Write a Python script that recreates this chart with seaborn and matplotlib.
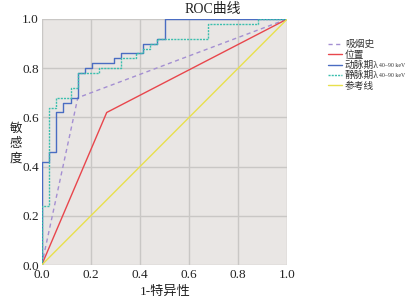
import pandas as pd
import seaborn as sns
import matplotlib.pyplot as plt

# ROC curve points (1-specificity, sensitivity)
smoke_x = [0, 5/34, 1]
smoke_y = [0, 0.68, 1]
pos_x = [0, 9/34, 1]
pos_y = [0, 0.62, 1]
art_x = [0, 0, 1/34, 1/34, 2/34, 2/34, 3/34, 3/34, 4/34, 4/34, 5/34, 5/34, 6/34, 6/34,
         7/34, 7/34, 10/34, 10/34, 11/34, 11/34, 14/34, 14/34, 16/34, 16/34, 17/34, 17/34, 1]
art_y = [0, 0.42, 0.42, 0.46, 0.46, 0.62, 0.62, 0.66, 0.66, 0.68, 0.68, 0.78, 0.78, 0.80,
         0.80, 0.82, 0.82, 0.84, 0.84, 0.86, 0.86, 0.90, 0.90, 0.92, 0.92, 1.0, 1.0]
ven_x = [0, 0, 1/34, 1/34, 2/34, 2/34, 4/34, 4/34, 5/34, 5/34, 8/34, 8/34, 11/34, 11/34,
         13/34, 13/34, 14/34, 14/34, 15/34, 15/34, 16/34, 16/34, 23/34, 23/34, 30/34, 30/34, 1]
ven_y = [0, 0.24, 0.24, 0.64, 0.64, 0.68, 0.68, 0.72, 0.72, 0.78, 0.78, 0.80, 0.80, 0.84,
         0.84, 0.86, 0.86, 0.88, 0.88, 0.90, 0.90, 0.92, 0.92, 0.98, 0.98, 1.0, 1.0]
ref_x = [0, 1]
ref_y = [0, 1]
names = ['吸烟史', '位置', '动脉期λ', '静脉期λ', '参考线']
subscripts = ['', '', '40–90 keV', '40–90 keV', '']
ticks = [0.0, 0.2, 0.4, 0.6, 0.8, 1.0]

sns.set_style('white')
plt.rcParams['font.family'] = ['Liberation Serif', 'Noto Sans CJK SC']

fig = plt.figure(figsize=(4.06, 3.02), dpi=100)
ax = fig.add_axes([0.1027, 0.1225, 0.605, 0.8146])
ax.set_facecolor('#e9e6e4')

series = [
    (smoke_x, smoke_y, '#a48fd2', (0, (3, 2.5))),
    (pos_x, pos_y, '#e8464c', '-'),
    (art_x, art_y, '#4a6cc2', '-'),
    (ven_x, ven_y, '#3cbfae', (0, (1.5, 0.8))),
    (ref_x, ref_y, '#e8e04c', '-'),
]
for (xs, ys, col, ls), name in zip(series, names):
    df = pd.DataFrame({'x': xs, 'y': ys})
    sns.lineplot(data=df, x='x', y='y', sort=False, estimator=None, color=col,
                 linestyle=ls, linewidth=1.0, label=name, ax=ax)

ax.set_xlim(0, 1)
ax.set_ylim(0, 1)
ax.set_xticks(ticks)
ax.set_yticks(ticks)
ax.set_xticklabels([f'{t:.1f}' for t in ticks])
ax.set_yticklabels([f'{t:.1f}' for t in ticks])
ax.tick_params(length=0, labelsize=9.5, colors='#222222')
ax.tick_params(axis='x', pad=3)
ax.tick_params(axis='y', pad=2)
ax.grid(True, color='#c9c7c5', linewidth=1.0)
ax.set_axisbelow(True)
for s in ax.spines.values():
    s.set_visible(False)
ax.set_xlabel('')
ax.set_ylabel('')

fig.text(213/406, 1 - 9/302, 'ROC曲线', ha='center', va='center', fontsize=10, color='#222222')
fig.text(165/406, 1 - 292/302, '1-特异性', ha='center', va='center', fontsize=9.5, color='#222222')
for i, ch in enumerate('敏感度'):
    fig.text(16/406, 1 - (129 + 15 * i)/302, ch, ha='center', va='center', fontsize=9,
             color='#222222')

h, l = ax.get_legend_handles_labels()
ax.legend_.remove()
leg = fig.legend(h, l, loc='upper left', bbox_to_anchor=(324/406, 1 - 36/302), frameon=False,
                 fontsize=7, handlelength=1.5, handletextpad=0.25, labelspacing=0.1,
                 borderaxespad=0, labelcolor='#333333')

# small subscripts after the λ entries
fig.canvas.draw()
r = fig.canvas.get_renderer()
for t, s in zip(leg.get_texts(), subscripts):
    if not s:
        continue
    bb = t.get_window_extent(r)
    fig.text((bb.x1 + 0.5) / 406, (bb.y0 + 2) / 302, s, ha='left', va='bottom',
             fontsize=4.2, color='#333333')

fig.savefig('out.png', dpi=100, facecolor='white')
